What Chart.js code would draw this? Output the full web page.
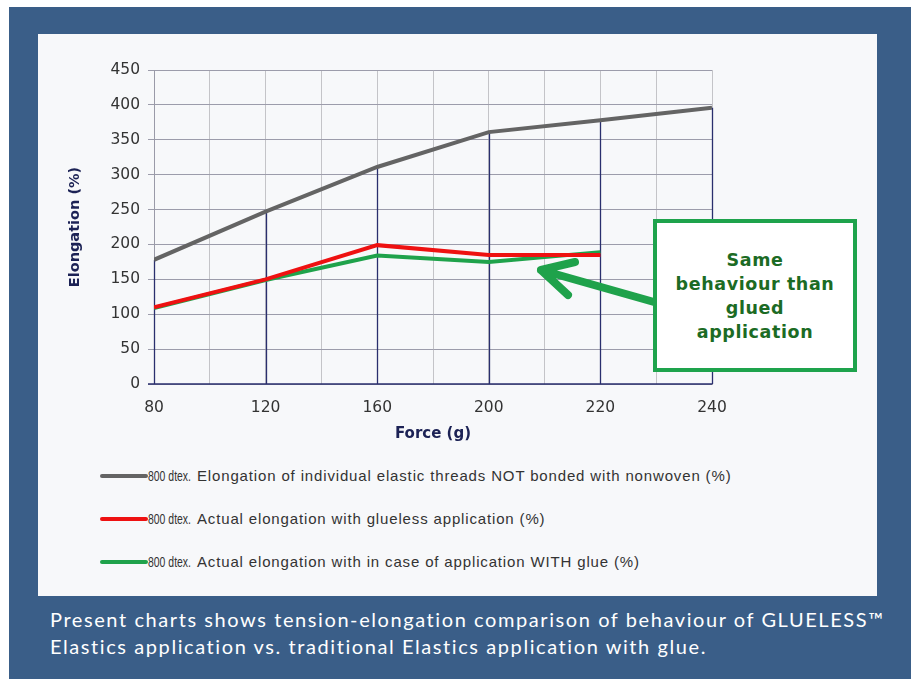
<!DOCTYPE html>
<html lang="en">
<head>
  <meta charset="UTF-8">
  <title>Tension-elongation comparison</title>
  <script src="https://cdn.jsdelivr.net/npm/chart.js@4.4.1/dist/chart.umd.min.js"></script>
  <style>
    html, body { margin: 0; padding: 0; background: #fff; }
    body { width: 919px; height: 679px; position: relative; overflow: hidden; }
    .marco {
      position: absolute; left: 9px; top: 7px; width: 902px; height: 672px;
      background: #3a5e88;
    }
    .panel {
      position: absolute; left: 38px; top: 34px; width: 839px; height: 562px;
      background: #f7f8fa;
    }
    #grafico { position: absolute; left: 0; top: 0; }
    .nota {
      position: absolute; left: 615px; top: 185px; width: 204px; height: 153px;
      border: 4px solid #1ea34c; background: #fff; box-sizing: border-box;
      display: flex; align-items: center; justify-content: center; text-align: center;
      font-family: 'DejaVu Sans', Verdana, sans-serif; font-weight: bold;
      font-size: 17.5px; line-height: 24px; color: #1c6b24; letter-spacing: 0.6px;
    }
    .leyenda { position: absolute; left: 62px; top: 420px; font-family: 'Liberation Sans', Arial, sans-serif; font-size: 15px; color: #333; white-space: nowrap; }
    .leyenda div { height: 43px; display: flex; align-items: center; }
    .leyenda i { display: inline-block; flex: 0 0 48px; height: 4px; border-radius: 2px; }
    .leyenda b { font-weight: normal; flex: 0 0 49px; min-width: 0; width: 49px; font-size: 14.5px; display: inline-block; transform: scaleX(0.72); transform-origin: left center; }
    .leyenda span { letter-spacing: 0.85px; }
    .pie {
      position: absolute; left: 50px; top: 606px; color: #fff;
      font-family: Lato, 'Open Sans', sans-serif; font-size: 20px; line-height: 27px;
      letter-spacing: 1.58px; white-space: nowrap;
    }
  </style>
</head>
<body>
  <div class="marco"></div>
  <div class="panel">
    <canvas id="grafico" width="839" height="420"></canvas>
    <div class="nota">Same<br>behaviour than<br>glued<br>application</div>
    <div class="leyenda" id="leyenda"></div>
  </div>
  <div class="pie">Present charts shows tension-elongation comparison of behaviour of GLUELESS™<br>Elastics application vs. traditional Elastics application with glue.</div>

  <script>
    // datos
    const fuerzas = ['80', '120', '160', '200', '220', '240'];
    const sinPegar = [178, 247, 311, 361, 378, 396];
    const sinCola = [110, 150, 199, 185, 185];
    const conCola = [109, 149, 184, 175, 189];
    const prefijo = '800 dtex.';
    const nombres = [
      'Elongation of individual elastic threads NOT bonded with nonwoven (%)',
      'Actual elongation with glueless application (%)',
      'Actual elongation with in case of application WITH glue (%)'
    ];
    const colores = ['#646464', '#ee1111', '#1fa24b'];

    const puntos = arr => arr.map((v, i) => ({ x: i, y: v }));

    // lineas verticales azules desde cada punto de la serie gris
    const caidas = {
      id: 'caidas',
      beforeDatasetsDraw(chart) {
        const ctx = chart.ctx;
        const yEje = chart.scales.y.getPixelForValue(0);
        ctx.save();
        ctx.strokeStyle = '#2a2f6e';
        ctx.lineWidth = 1.3;
        chart.getDatasetMeta(0).data.forEach(p => {
          ctx.beginPath();
          ctx.moveTo(Math.round(p.x) + 0.5, p.y);
          ctx.lineTo(Math.round(p.x) + 0.5, yEje);
          ctx.stroke();
        });
        ctx.beginPath();
        ctx.moveTo(chart.chartArea.left - 6, yEje);
        ctx.lineTo(chart.chartArea.right, yEje);
        ctx.stroke();
        ctx.restore();
      }
    };

    // flecha verde de la nota
    const flecha = {
      id: 'flecha',
      afterDraw(chart) {
        const ctx = chart.ctx;
        ctx.save();
        ctx.strokeStyle = '#1fa24b';
        ctx.lineWidth = 8;
        ctx.lineCap = 'round';
        ctx.lineJoin = 'round';
        ctx.beginPath();
        ctx.moveTo(616, 268);
        ctx.lineTo(503, 236);
        ctx.moveTo(537, 228);
        ctx.lineTo(503, 236);
        ctx.lineTo(530, 261);
        ctx.stroke();
        ctx.restore();
      }
    };

    new Chart(document.getElementById('grafico'), {
      type: 'line',
      data: {
        datasets: [
          { data: puntos(sinPegar), borderColor: colores[0], borderWidth: 4 },
          { data: puntos(sinCola), borderColor: colores[1], borderWidth: 4 },
          { data: puntos(conCola), borderColor: colores[2], borderWidth: 4 }
        ]
      },
      options: {
        responsive: false,
        animation: false,
        elements: { point: { radius: 0 }, line: { tension: 0 } },
        layout: { padding: { top: 36, right: 165, left: 0, bottom: 0 } },
        plugins: { legend: { display: false }, tooltip: { enabled: false } },
        scales: {
          x: {
            type: 'linear', min: 0, max: fuerzas.length - 1,
            afterFit(s) { s.height = 70; },
            ticks: {
              stepSize: 0.5, autoSkip: false, maxRotation: 0, padding: 15,
              color: '#333', font: { family: 'DejaVu Sans', size: 15.5 },
              callback: v => Number.isInteger(v) ? fuerzas[v] : ''
            },
            grid: { color: '#c4c4c8', lineWidth: 1, drawTicks: false },
            border: { color: '#9a9aa8' },
            title: {
              display: true, text: 'Force (g)', color: '#1c2255',
              font: { family: 'DejaVu Sans', size: 15, weight: 'bold' }, padding: { top: 0, bottom: 11 }
            }
          },
          y: {
            min: 0, max: 450,
            afterFit(s) { s.width = 116; },
            ticks: { stepSize: 50, color: '#333', padding: 8, font: { family: 'DejaVu Sans', size: 15.5 } },
            grid: { color: '#9c9cab', lineWidth: 1, tickLength: 6 },
            border: { color: '#9a9aa8' },
            title: {
              display: true, text: 'Elongation (%)', color: '#1c2255',
              font: { family: 'DejaVu Sans', size: 14.5, weight: 'bold' }, padding: { top: 29, bottom: 0 }
            }
          }
        }
      },
      plugins: [caidas, flecha]
    });

    const ley = document.getElementById('leyenda');
    nombres.forEach((n, i) => {
      const d = document.createElement('div');
      d.innerHTML = `<i style="background:${colores[i]}"></i><b>${prefijo}</b><span>${n}</span>`;
      ley.appendChild(d);
    });
  </script>
</body>
</html>
